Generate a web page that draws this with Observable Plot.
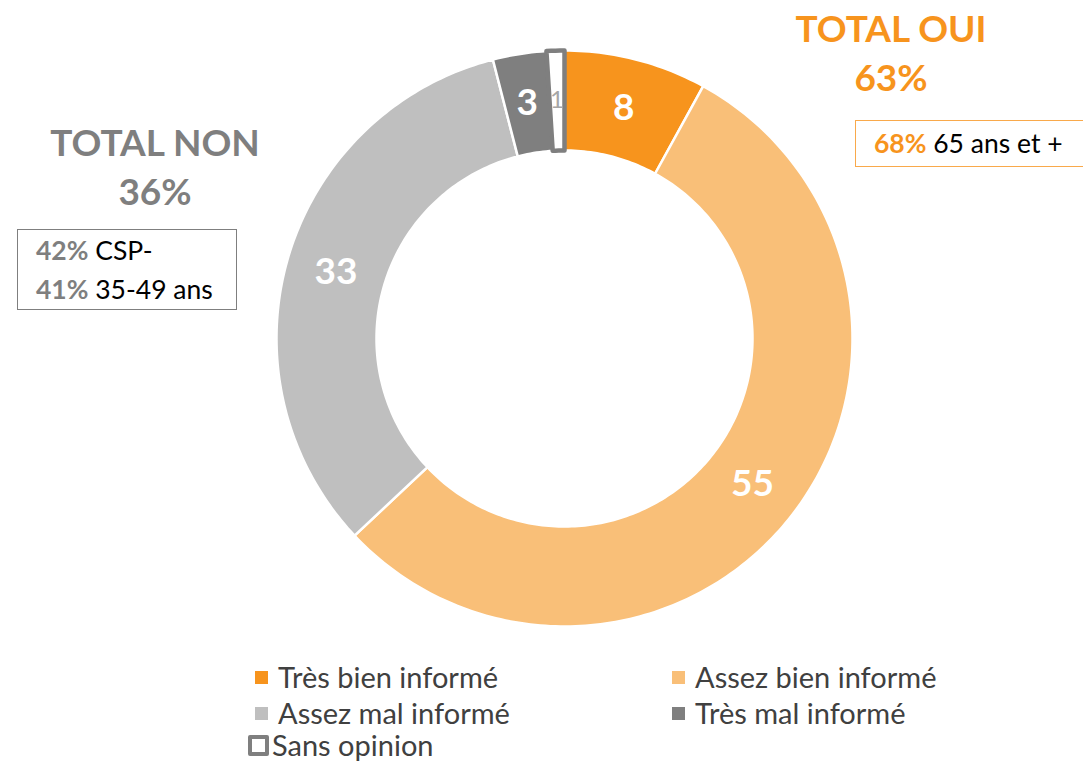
<!DOCTYPE html>
<html>
<head>
<meta charset="utf-8">
<script src="https://cdn.jsdelivr.net/npm/d3@7"></script>
<script src="https://cdn.jsdelivr.net/npm/@observablehq/plot@0.6"></script>
<style>
  html, body { margin: 0; padding: 0; background: #fff; }
  body { font-family: Lato, "Open Sans", sans-serif; }
  #wrap { position: relative; width: 1083px; height: 761px; overflow: hidden; }
  .ann { position: absolute; white-space: nowrap; }
  .big { font-weight: 700; font-size: 37px; text-align: center; line-height: 49px; }
  .box { position: absolute; box-sizing: border-box; background: #fff; font-size: 26.5px; padding-left: 18px; color: #000; white-space: nowrap; }
  .box b { font-weight: 700; }
  #legend { position: absolute; left: 0; top: 0; width: 1083px; font-size: 29px; color: #404040; }
  .li { position: absolute; display: flex; align-items: center; white-space: nowrap; line-height: 26px; height: 26px; }
  .sw { width: 13px; height: 13px; margin-right: 10px; }
</style>
</head>
<body>
<div id="wrap">
  <div id="chart"></div>
  <div id="ann"></div>
  <div id="legend"></div>
</div>
<script>
// ---- data ----
const categories = ["Très bien informé", "Assez bien informé", "Assez mal informé", "Très mal informé", "Sans opinion"];
const values = [8, 55, 33, 3, 1];
const colors = ["#F7941D", "#F9BF78", "#BFBFBF", "#7F7F7F", "#FFFFFF"];
const totalLabels = ["TOTAL OUI", "TOTAL NON"];
const totalValues = ["63%", "36%"];
const ouiDetailPct = ["68%"];
const ouiDetailLbl = ["65 ans et +"];
const nonDetailPct = ["42%", "41%"];
const nonDetailLbl = ["CSP-", "35-49 ans"];

// ---- layout ----
const W = 1083, H = 650;
const cx = 564, cy = 338, R0 = 188, R1 = 288;
const total = d3.sum(values);
const cum = d3.cumsum(values);

// slice polygons computed from values
const polys = [];
const labels = [];
values.forEach((v, i) => {
  const a0 = ((cum[i] - v) / total) * 2 * Math.PI;
  const a1 = (cum[i] / total) * 2 * Math.PI;
  const n = Math.max(3, Math.ceil((a1 - a0) / (Math.PI / 180)));
  const pts = [];
  for (let k = 0; k <= n; k++) {
    const a = a0 + (a1 - a0) * k / n;
    pts.push({key: categories[i], x: cx + R1 * Math.sin(a), y: cy - R1 * Math.cos(a)});
  }
  for (let k = n; k >= 0; k--) {
    const a = a0 + (a1 - a0) * k / n;
    pts.push({key: categories[i], x: cx + R0 * Math.sin(a), y: cy - R0 * Math.cos(a)});
  }
  pts.push({...pts[0]});
  polys.push({cat: categories[i], color: colors[i], pts});
  const am = (a0 + a1) / 2, rm = (R0 + R1) / 2;
  labels.push({cat: categories[i], v, x: cx + rm * Math.sin(am), y: cy - rm * Math.cos(am)});
});

const marks = [];
polys.forEach((p, i) => {
  const isSO = i === 4;
  marks.push(Plot.line(p.pts, {
    x: "x", y: "y", fill: p.color,
    stroke: isSO ? "#7F7F7F" : "#FFFFFF",
    strokeWidth: isSO ? 4.5 : 2.5,
    strokeLinejoin: "round"
  }));
});
marks.push(Plot.text(labels.slice(0, 4), {
  x: "x", y: "y", text: d => String(d.v),
  fill: "#FFFFFF", fontSize: 37, fontWeight: 700, fontFamily: "Lato"
}));
marks.push(Plot.text(labels.slice(4), {
  x: "x", y: "y", text: d => String(d.v),
  fill: "#A6A6A6", fontSize: 24, fontWeight: 400, fontFamily: "Lato"
}));

const plot = Plot.plot({
  width: W, height: H,
  margin: 0,
  x: {domain: [0, W], range: [0, W], axis: null},
  y: {domain: [0, H], range: [0, H], axis: null},
  style: {background: "transparent", overflow: "visible"},
  marks
});
document.getElementById("chart").appendChild(plot);

// ---- annotations ----
const ann = document.getElementById("ann");
ann.innerHTML = `
  <div class="ann big" style="left:760px; top:3px; width:262px; color:#F7941D;">${totalLabels[0]}<br>${totalValues[0]}</div>
  <div class="ann big" style="left:25px; top:117px; width:260px; color:#7F7F7F;">${totalLabels[1]}<br>${totalValues[1]}</div>
  <div class="box" style="left:855px; top:120px; width:240px; height:47px; border:1.5px solid #F9A94B; line-height:44px;">
    <b style="color:#F7941D">${ouiDetailPct[0]}</b> ${ouiDetailLbl[0]}</div>
  <div class="box" style="left:17px; top:229px; width:220px; height:81px; border:1.5px solid #7F7F7F; line-height:39px; padding-top:1px;">
    <b style="color:#7F7F7F">${nonDetailPct[0]}</b> ${nonDetailLbl[0]}<br>
    <b style="color:#7F7F7F">${nonDetailPct[1]}</b> ${nonDetailLbl[1]}</div>
`;

// ---- legend ----
const legend = document.getElementById("legend");
const pos = [[255, 664], [672, 664], [255, 700], [672, 700], [248, 732]];
categories.forEach((c, i) => {
  const el = document.createElement("div");
  el.className = "li";
  el.style.left = pos[i][0] + "px";
  el.style.top = pos[i][1] + "px";
  const sw = document.createElement("span");
  sw.className = "sw";
  if (i === 4) {
    sw.style.width = "13px"; sw.style.height = "13px";
    sw.style.border = "4px solid #7F7F7F"; sw.style.borderRadius = "2px";
    sw.style.background = "#fff"; sw.style.marginRight = "3px";
  } else {
    sw.style.background = colors[i];
  }
  el.appendChild(sw);
  const t = document.createElement("span");
  t.textContent = c;
  el.appendChild(t);
  legend.appendChild(el);
});
</script>
</body>
</html>
